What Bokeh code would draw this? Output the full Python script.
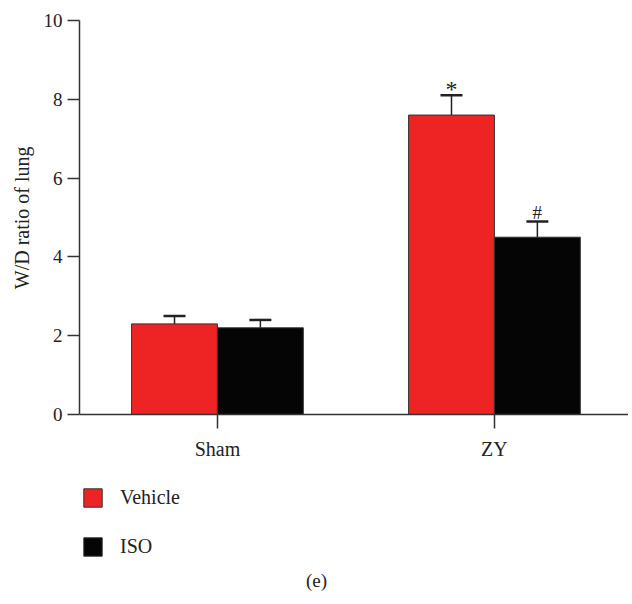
import numpy as np
from bokeh.plotting import figure
from bokeh.models import (ColumnDataSource, Whisker, TeeHead, Legend, LegendItem,
                          Label, Title, FixedTicker, Range1d)
from bokeh.core.properties import value
from bokeh.embed import file_html
from bokeh.resources import INLINE

categories = ["Sham", "ZY"]
series = ["Vehicle", "ISO"]
vehicle_vals = [2.3, 7.6]
vehicle_err = [0.2, 0.5]
iso_vals = [2.2, 4.5]
iso_err = [0.2, 0.4]
vehicle_marks = ["", "*"]
iso_marks = ["", "#"]
colors = ["#EE2324", "#050505"]
y_ticks = [0, 2, 4, 6, 8, 10]

FONT = "Liberation Serif"
bar_w = 0.31
xc = np.arange(1, len(categories) + 1)

p = figure(width=628, height=600, output_backend="svg", toolbar_location=None,
           x_range=Range1d(0.502, 2.484), y_range=Range1d(-4.721, 10),
           min_border_left=79, min_border_top=20, min_border_right=0,
           min_border_bottom=0)
p.outline_line_color = None
p.grid.visible = False
p.background_fill_color = "white"
p.border_fill_color = "white"

renderers = []
mark_offsets = [7, 2]
mark_sizes = ["24px", "19px"]
for i, (vals, errs, marks) in enumerate([(vehicle_vals, vehicle_err, vehicle_marks),
                                         (iso_vals, iso_err, iso_marks)]):
    off = -bar_w / 2 if i == 0 else bar_w / 2
    x = xc + off
    vals = np.array(vals)
    errs = np.array(errs)
    src = ColumnDataSource(dict(x=x, top=vals, upper=vals + errs, marks=marks))
    r = p.vbar(x="x", top="top", width=bar_w, bottom=0, source=src,
               fill_color=colors[i], line_color="#333333", line_width=1)
    renderers.append(r)
    w = Whisker(base="x", lower="top", upper="upper", source=src,
                line_color="#222222", line_width=1.5,
                upper_head=TeeHead(size=22, line_color="#222222", line_width=2.5),
                lower_head=None)
    p.add_layout(w)
    p.text(x="x", y="upper", text="marks", source=src, text_align="center",
           text_baseline="bottom", y_offset=mark_offsets[i], text_font=value(FONT),
           text_font_size=mark_sizes[i], text_color="#222222")

# axes
p.xaxis.fixed_location = 0
p.xaxis.ticker = FixedTicker(ticks=list(xc))
p.xaxis.major_label_overrides = {int(k): c for k, c in zip(xc, categories)}
p.xaxis.major_label_text_font = FONT
p.xaxis.major_label_text_font_size = "20px"
p.xaxis.major_label_text_color = "#222222"
p.xaxis.major_label_standoff = 10
p.xaxis.major_tick_out = 14
p.xaxis.major_tick_in = 0
p.xaxis.minor_tick_line_color = None
p.xaxis.axis_line_color = "#333333"
p.xaxis.axis_line_width = 1.5
p.xaxis.major_tick_line_color = "#333333"
p.xaxis.major_tick_line_width = 1.5

p.yaxis.bounds = (0, 10)
p.yaxis.ticker = FixedTicker(ticks=y_ticks)
p.yaxis.major_label_text_font = FONT
p.yaxis.major_label_text_font_size = "19px"
p.yaxis.major_label_text_color = "#222222"
p.yaxis.major_label_standoff = 5
p.yaxis.major_tick_out = 12
p.yaxis.major_tick_in = 0
p.yaxis.minor_tick_line_color = None
p.yaxis.axis_line_color = "#333333"
p.yaxis.axis_line_width = 1.5
p.yaxis.major_tick_line_color = "#333333"
p.yaxis.major_tick_line_width = 1.5

ylabel = Title(text="W/D ratio of lung", align="right", offset=126,
               text_font=FONT, text_font_size="20px", text_font_style="normal",
               text_color="#222222", standoff=15)
p.add_layout(ylabel, "left")

legend = Legend(items=[LegendItem(label=s, renderers=[r]) for s, r in zip(series, renderers)],
                location=(2, 42), orientation="vertical",
                glyph_width=23, glyph_height=23, label_height=23, label_standoff=16,
                spacing=26, padding=0, margin=0, border_line_color=None,
                background_fill_alpha=0, label_text_font=FONT,
                label_text_font_size="20px", label_text_color="#222222")
p.add_layout(legend, "center")

p.add_layout(Label(x=237, y=20, x_units="screen", y_units="screen", text="(e)",
                   text_font=FONT, text_font_size="19px", text_color="#222222",
                   text_align="center", text_baseline="middle"))

open("out.html", "w").write(file_html(p, INLINE))
